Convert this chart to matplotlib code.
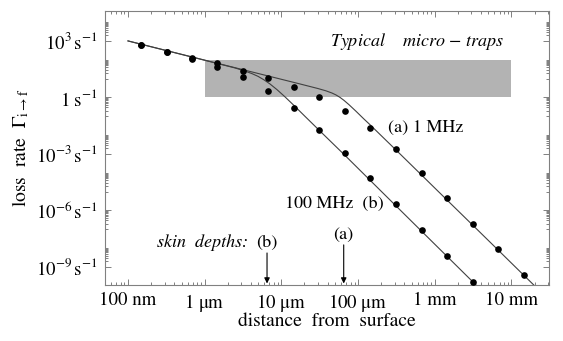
import numpy as np
import matplotlib
matplotlib.use('Agg')
import matplotlib.pyplot as plt
from matplotlib.ticker import FixedLocator, NullFormatter

plt.rcParams['font.family'] = ['STIXGeneral', 'DejaVu Serif']
plt.rcParams['mathtext.fontset'] = 'stix'

# ---- data (log10 values) ----
dot_x_exp = [-6.83, -6.49, -6.17, -5.84, -5.50, -5.17, -4.84, -4.51,
             -4.17, -3.84, -3.51, -3.17, -2.84, -2.50, -2.17, -1.84]
dots_a_exp = [2.80, 2.43, 2.08, 1.82, 1.42, 1.02, 0.57, 0.01,
              -0.70, -1.64, -2.75, -4.01, -5.34, -6.72, -8.05, -9.43]
dots_b_exp = [2.80, 2.43, 2.02, 1.60, 1.07, 0.35, -0.57, -1.73,
              -2.96, -4.26, -5.66, -7.04, -8.42, -9.80]

line_a_x_exp = [-7.000, -5.501, -4.758, -4.523, -4.419, -4.340, -4.288, -4.236,
                -4.184, -4.119, -4.027, -3.923, -3.845, -3.454, -3.193, -2.841,
                -2.502, -2.176, -1.837, -1.563]
line_a_y_exp = [3.001, 1.474, 0.717, 0.473, 0.351, 0.234, 0.133, 0.005,
                -0.154, -0.382, -0.733, -1.147, -1.445, -2.995, -4.036, -5.443,
                -6.792, -8.093, -9.448, -10.54]

line_b_x_exp = [-7.000, -5.605, -5.475, -5.383, -5.305, -5.227, -5.149, -5.057,
                -4.953, -4.836, -4.692, -4.506, -4.171, -3.506, -2.502, -2.280]
line_b_y_exp = [3.001, 1.567, 1.402, 1.264, 1.121, 0.935, 0.717, 0.414,
                0.032, -0.425, -1.004, -1.747, -3.075, -5.757, -9.798, -10.69]

trap_x = [1e-6, 1e-2]
trap_y = [1.0, 100.0]
skin_depths = [6.5e-6, 6.5e-5]   # (b) 100 MHz, (a) 1 MHz

xtick_vals = [1e-7, 1e-6, 1e-5, 1e-4, 1e-3, 1e-2]
xtick_labels = ['100 nm', r'1 $\mathrm{\mu}$m', r'10 $\mathrm{\mu}$m',
                r'100 $\mathrm{\mu}$m', '1 mm', '10 mm']
ytick_vals = [1e3, 1.0, 1e-3, 1e-6, 1e-9]
ytick_labels = [r'$10^{3}\,\mathrm{s}^{-1}$', r'$1\ \mathrm{s}^{-1}$',
                r'$10^{-3}\,\mathrm{s}^{-1}$', r'$10^{-6}\,\mathrm{s}^{-1}$',
                r'$10^{-9}\,\mathrm{s}^{-1}$']

dot_x = 10.0 ** np.array(dot_x_exp)
dots_a = 10.0 ** np.array(dots_a_exp)
dots_b = 10.0 ** np.array(dots_b_exp)

fig = plt.figure(figsize=(5.63, 3.41), dpi=100)
ax = fig.add_axes([105 / 563, 56 / 341, 444 / 563, 274 / 341])
ax.set_xscale('log')
ax.set_yscale('log')
ax.set_xlim(10 ** -7.30, 10 ** -1.51)
ax.set_ylim(10 ** -9.96, 10 ** 4.59)

ax.fill_between(trap_x, trap_y[0], trap_y[1], color='#b3b3b3', lw=0, zorder=1)

lc = '#404040'
ax.plot(10.0 ** np.array(line_a_x_exp), 10.0 ** np.array(line_a_y_exp),
        color=lc, lw=0.8, zorder=2)
ax.plot(10.0 ** np.array(line_b_x_exp), 10.0 ** np.array(line_b_y_exp),
        color=lc, lw=0.8, zorder=2)
ax.plot(dot_x, dots_a, 'o', color='black', ms=4.8, mew=0, zorder=3)
ax.plot(dot_x[:len(dots_b)], dots_b, 'o', color='black', ms=4.8, mew=0, zorder=3)

fs = 13
ax.text(10 ** -2.10, 10 ** 2.95, 'Typical    micro $-$ traps', style='italic',
        fontsize=fs, ha='right', va='center')
ax.text(10 ** -3.61, 10 ** -1.62, '(a) 1 MHz', fontsize=fs, ha='left', va='center')
ax.text(10 ** -4.95, 10 ** -5.66, '100 MHz  (b)', fontsize=fs, ha='left', va='center')
ax.text(10 ** -6.62, 10 ** -7.73, 'skin  depths:', style='italic', fontsize=fs,
        ha='left', va='center')
ax.text(skin_depths[0], 10 ** -7.73, '(b)', fontsize=fs, ha='center', va='center')
ax.text(skin_depths[1], 10 ** -7.30, '(a)', fontsize=fs, ha='center', va='center')
for sd, ytop in zip(skin_depths, [10 ** -8.26, 10 ** -7.83]):
    ax.annotate('', xy=(sd, 10 ** -9.88), xytext=(sd, ytop),
                arrowprops=dict(arrowstyle='-|>', color='black', lw=0.8,
                                mutation_scale=8, shrinkA=0, shrinkB=0))

ax.set_xticks(xtick_vals)
ax.set_xticklabels(xtick_labels, fontsize=13.5)
ax.set_yticks(ytick_vals)
ax.set_yticklabels(ytick_labels, fontsize=13.5)
xminor = [s * 10.0 ** n for n in range(-8, -1) for s in range(2, 10)]
ax.xaxis.set_minor_locator(FixedLocator(xminor))
yminor = [s * 10.0 ** n for n in [3, 1, -1, -3, -5, -7, -9] for s in range(2, 10)]
yminor += [10.0 ** n for n in [4, 2, 1, -1, -2, -4, -5, -7, -8]]
ax.yaxis.set_minor_locator(FixedLocator(yminor))
ax.xaxis.set_minor_formatter(NullFormatter())
ax.yaxis.set_minor_formatter(NullFormatter())

fc = '#808080'
for sp in ax.spines.values():
    sp.set_color(fc)
    sp.set_linewidth(0.8)
ax.tick_params(which='both', direction='in', top=True, right=True, color=fc,
               width=0.7)
ax.tick_params(which='major', length=4, pad=5)
ax.tick_params(which='minor', length=2.2)

ax.set_xlabel('distance  from  surface', fontsize=14, labelpad=-1)
ax.set_ylabel(r'loss  rate  $\Gamma_{\mathrm{i}\rightarrow\mathrm{f}}$', fontsize=14,
              labelpad=4)

fig.savefig('out.png', dpi=100)
